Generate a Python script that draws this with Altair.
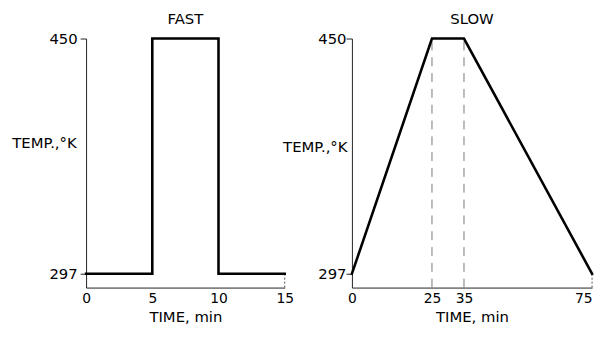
import altair as alt
import pandas as pd

# FAST profile
fast_time = [0, 5, 5, 10, 10, 15]
fast_temp = [297, 297, 450, 450, 297, 297]
fast_ticks = [0, 5, 10, 15]

# SLOW profile
slow_time = [0, 25, 35, 75]
slow_temp = [297, 450, 450, 297]
slow_ticks = [0, 25, 35, 75]
slow_marks = [25, 35]

temp_ticks = [297, 450]
y_min = 288
y_max = 450

FONT = "DejaVu Sans"

fast_df = pd.DataFrame({"t": fast_time, "T": fast_temp, "i": list(range(len(fast_time)))})
slow_df = pd.DataFrame({"t": slow_time, "T": slow_temp, "i": list(range(len(slow_time)))})
marks_df = pd.DataFrame({"t": slow_marks, "y0": [y_min] * len(slow_marks), "y1": [y_max] * len(slow_marks)})
fast_edge = pd.DataFrame({"t": [fast_time[-1]], "y0": [y_min], "y1": [fast_temp[-1]]})
slow_edge = pd.DataFrame({"t": [slow_time[-1]], "y0": [y_min], "y1": [slow_temp[-1]]})


def panel(df, edge, ticks, xmax, width, title, label_pad, title_x, title_y, last_align):
    xs = alt.Scale(domain=[0, xmax], nice=False, zero=False)
    ys = alt.Scale(domain=[y_min, y_max], nice=False, zero=False)
    line = alt.Chart(df).mark_line(color="black", strokeWidth=2.6, strokeCap="square").encode(
        x=alt.X("t:Q", scale=xs, axis=alt.Axis(
            values=ticks, title="TIME, min", grid=False, tickSize=0,
            labelPadding=4, titleY=34, titleBaseline="alphabetic",
            labelAlign=alt.expr(f"datum.value == {xmax} ? '{last_align}' : 'center'"),
            titleFontWeight="normal", titleFontSize=15, titleFont=FONT,
            labelFont=FONT, labelFontSize=14, labelColor="black", titleColor="black",
            domainColor="#222", labelFlush=False)),
        y=alt.Y("T:Q", scale=ys, axis=alt.Axis(
            values=temp_ticks, title="TEMP.,°K", grid=False, tickSize=6,
            tickColor="#222", labelPadding=label_pad, titleAngle=0,
            titleAlign="right", titleBaseline="middle", titleX=title_x, titleY=title_y,
            titleFontWeight="normal", titleFontSize=15, titleFont=FONT,
            labelFont=FONT, labelFontSize=15, labelColor="black", titleColor="black",
            domainColor="#222")),
        order="i:Q",
    )
    e = alt.Chart(edge).mark_rule(color="#555", strokeWidth=1, strokeDash=[2, 2]).encode(
        x=alt.X("t:Q", scale=xs), y=alt.Y("y0:Q", scale=ys), y2="y1:Q")
    return alt.layer(e, line).properties(
        width=width, height=252,
        title=alt.TitleParams(title, fontSize=15, fontWeight="normal", font=FONT,
                              color="black", offset=5, anchor="middle"))


left = panel(fast_df, fast_edge, fast_ticks, 15, 201, "FAST", 3, -10, 105, "center")

right_base = panel(slow_df, slow_edge, slow_ticks, 75, 243, "SLOW", 0, -5, 109, "right")
dash = alt.Chart(marks_df).mark_rule(color="#777", strokeWidth=1, strokeDash=[9, 7]).encode(
    x=alt.X("t:Q", scale=alt.Scale(domain=[0, 75], nice=False, zero=False)),
    y=alt.Y("y0:Q", scale=alt.Scale(domain=[y_min, y_max], nice=False, zero=False)),
    y2="y1:Q")
right = alt.layer(dash, right_base)

chart = alt.hconcat(left, right, spacing=68, bounds="flush").properties(
    padding={"left": 3, "top": 2, "right": 0, "bottom": 0}, background="white"
).configure_view(stroke=None)

chart.save("out.html", embed_options={"renderer": "svg", "actions": False})
